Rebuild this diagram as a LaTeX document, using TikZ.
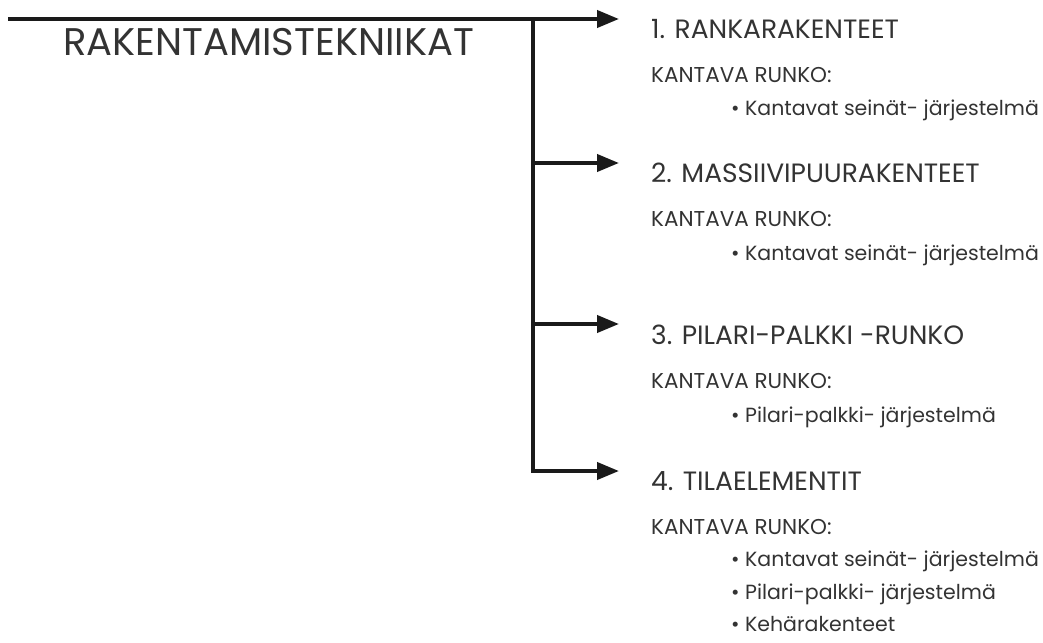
\documentclass[tikz,border=0pt]{standalone}
\usepackage{fontspec}
\setmainfont{Poppins}
\usetikzlibrary{arrows.meta}
\definecolor{txt}{HTML}{333333}
\definecolor{ln}{HTML}{1A1A1A}
\begin{document}
\begin{tikzpicture}[x=1pt,y=-1pt,
  conn/.style={draw=ln,line width=4pt,-{Triangle[length=22pt,width=17pt]}},
  trunk/.style={draw=ln,line width=4pt},
  title/.style={anchor=base west,inner sep=0pt,text=txt,font=\fontsize{38.5}{42}\selectfont},
  head/.style={anchor=base west,inner sep=0pt,text=txt,font=\fontsize{26.5}{30}\selectfont},
  sub/.style={anchor=base west,inner sep=0pt,text=txt,font=\fontsize{21.5}{25}\selectfont},
  item/.style={anchor=base west,inner sep=0pt,text=txt,font=\fontsize{20.5}{24}\selectfont}]
\useasboundingbox (0,0) rectangle (1043,642);
\node[title] (t) at (63,56) {RAKENTAMISTEKNIIKAT};
\coordinate (s) at (8,19);
\coordinate (j1) at (533,19);
\coordinate (j2) at (533,163);
\coordinate (j3) at (533,324);
\coordinate (j4) at (533,471);
\coordinate (e1) at (619,19);
\coordinate (e2) at (619,163);
\coordinate (e3) at (619,324);
\coordinate (e4) at (619,471);
\node[head] (h1) at (651,38.5) {1. RANKARAKENTEET};
\node[sub] (k1) at (651,82) {KANTAVA RUNKO:};
\node[item] (b1) at (731,115) {• Kantavat seinät- järjestelmä};
\node[head] (h2) at (651,182.5) {2. MASSIIVIPUURAKENTEET};
\node[sub] (k2) at (651,226.5) {KANTAVA RUNKO:};
\node[item] (b2) at (731,260) {• Kantavat seinät- järjestelmä};
\node[head] (h3) at (651,344) {3. PILARI-PALKKI -RUNKO};
\node[sub] (k3) at (651,388) {KANTAVA RUNKO:};
\node[item] (b3) at (731,422) {• Pilari-palkki- järjestelmä};
\node[head] (h4) at (651,490.5) {4. TILAELEMENTIT};
\node[sub] (k4) at (651,534) {KANTAVA RUNKO:};
\node[item] (b4a) at (731,566) {• Kantavat seinät- järjestelmä};
\node[item] (b4b) at (731,599) {• Pilari-palkki- järjestelmä};
\node[item] (b4c) at (731,631.5) {• Kehärakenteet};
\draw[conn] (s) -- (e1);
\draw[trunk,line cap=rect] (j1) -- (j4);
\draw[conn] (j2) -- (e2);
\draw[conn] (j3) -- (e3);
\draw[conn] (j4) -- (e4);
\end{tikzpicture}
\end{document}
